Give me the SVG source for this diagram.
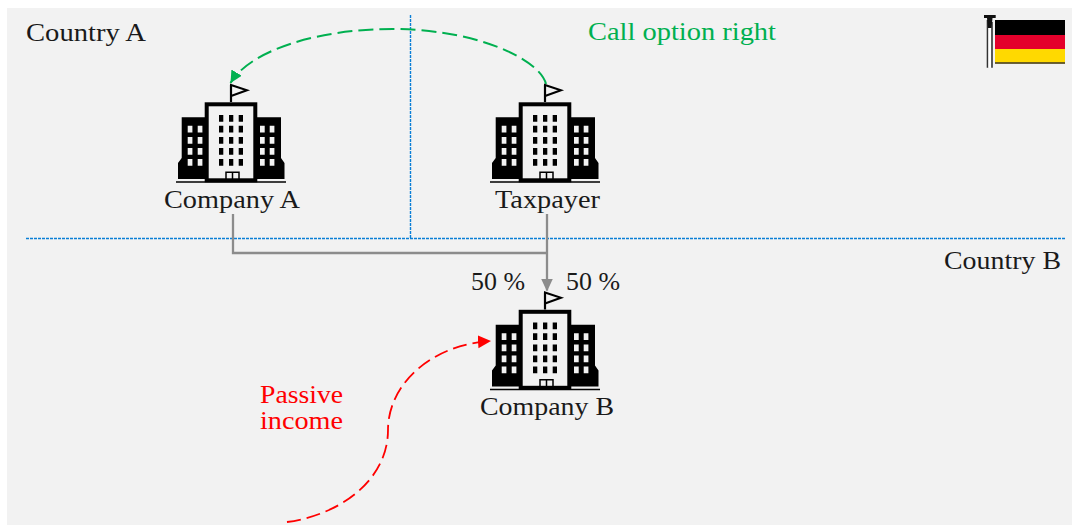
<svg xmlns="http://www.w3.org/2000/svg" width="1072" height="525" viewBox="0 0 1072 525">
<style>
text{font-family:"Liberation Serif","Times New Roman",serif;font-size:26px;fill:#1a1a1a}
.conn{fill:none}
.blue{stroke:#0a7fd6;stroke-width:1.4;stroke-dasharray:3 1}
.grey{stroke:#8c8c8c;stroke-width:2.3}
.green{stroke:#00b050;stroke-width:2;stroke-dasharray:15 6}
.red{stroke:#ff0000;stroke-width:1.8;stroke-dasharray:14 6}
.w{fill:#f2f2f2}
</style>
<defs>
<marker id="ag" markerUnits="userSpaceOnUse" markerWidth="16" markerHeight="16" refX="12" refY="6" orient="auto"><path d="M0 0L12 6L0 12Z" fill="#00b050"/></marker>
<marker id="ar" markerUnits="userSpaceOnUse" markerWidth="16" markerHeight="16" refX="12" refY="6.5" orient="auto"><path d="M0 0L13 6.5L0 13Z" fill="#ff0000"/></marker>
<marker id="ay" markerUnits="userSpaceOnUse" markerWidth="16" markerHeight="16" refX="12" refY="6" orient="auto"><path d="M0 0L13 6L0 12Z" fill="#8c8c8c"/></marker>
<g id="bld">
<path d="M181.7 117.3H206V179H178V163L181.7 158ZM281 117.3H256V179H284.5V163L281 158Z" fill="#000"/>
<rect x="206.7" y="104.3" width="48.6" height="76" fill="#f2f2f2" stroke="#000" stroke-width="4"/>
<path d="M176 182H286" stroke="#000" stroke-width="1.6"/>
<path d="M231 102V85" stroke="#000" stroke-width="2.2"/>
<path d="M231 85L247 90.3L231 96Z" fill="none" stroke="#000" stroke-width="2"/>
<g fill="#000">
<path d="M219 115h4.3v6.7h-4.3zM229 115h4.3v6.7h-4.3zM238.7 115h4.3v6.7h-4.3zM219 125.7h4.3v6.7h-4.3zM229 125.7h4.3v6.7h-4.3zM238.7 125.7h4.3v6.7h-4.3zM219 137h4.3v6.7h-4.3zM229 137h4.3v6.7h-4.3zM238.7 137h4.3v6.7h-4.3zM219 148h4.3v6.7h-4.3zM229 148h4.3v6.7h-4.3zM238.7 148h4.3v6.7h-4.3zM219 159h4.3v6.7h-4.3zM229 159h4.3v6.7h-4.3zM238.7 159h4.3v6.7h-4.3z"/>
</g>
<path class="w" d="M187.7 125.7h4.7v6.7h-4.7zM197.7 125.7h4.7v6.7h-4.7zM187.7 137h4.7v6.7h-4.7zM197.7 137h4.7v6.7h-4.7zM187.7 148h4.7v6.7h-4.7zM197.7 148h4.7v6.7h-4.7zM187.7 159h4.7v6.7h-4.7zM197.7 159h4.7v6.7h-4.7zM260 125.7h4.7v6.7H260zM269.7 125.7h4.7v6.7h-4.7zM260 137h4.7v6.7H260zM269.7 137h4.7v6.7h-4.7zM260 148h4.7v6.7H260zM269.7 148h4.7v6.7h-4.7zM260 159h4.7v6.7H260zM269.7 159h4.7v6.7h-4.7z"/>
<path d="M226 181.5V172.2H239V181.5M232.5 172.2V181.5" fill="none" stroke="#000" stroke-width="1.5"/>
</g>
</defs>
<rect x="7" y="8" width="1065" height="517" fill="#f2f2f2"/>
<g id="connectors">
<path class="conn blue" d="M26 238.5H1065"/>
<path class="conn blue" d="M410.5 15V238"/>
<path class="conn grey" d="M233 214V253H546"/>
<path class="conn grey" d="M547 214V290.5" marker-end="url(#ay)"/>
<path class="conn green" d="M546 84C541 62 485 31 398 29C320 28 250 50 230.5 83" marker-end="url(#ag)"/>
<path class="conn red" d="M287 522C340 515 388 480 388 430C388 385 430 345 490 341" marker-end="url(#ar)"/>
</g>
<g id="company-a"><use href="#bld"/><text x="164" y="208" textLength="136" lengthAdjust="spacingAndGlyphs">Company A</text></g>
<g id="taxpayer"><use href="#bld" x="314"/><text x="495" y="208" textLength="105" lengthAdjust="spacingAndGlyphs">Taxpayer</text></g>
<g id="company-b"><use href="#bld" x="314" y="207.5"/><text x="480" y="415" textLength="134" lengthAdjust="spacingAndGlyphs">Company B</text></g>
<g id="flag">
<path d="M987.5 67.7V20M992 67.7V22" fill="none" stroke="#333" stroke-width="1.6"/>
<path d="M988.5 67.7V24H991V67.7Z" fill="#fff"/>
<path d="M984 15H995.7V18H992.5L991.5 28H988L987 18H984Z" fill="#111"/>
<rect x="995" y="20" width="70" height="15.5" fill="#000"/>
<rect x="995" y="35" width="70" height="14" fill="#e4002b"/>
<rect x="995" y="49" width="70" height="13.5" fill="#ffd900"/>
<path d="M995 63H1065" stroke="#3c3000" stroke-width="1.4"/>
</g>
<g id="labels">
<text x="26" y="41" textLength="120" lengthAdjust="spacingAndGlyphs">Country A</text>
<text x="944" y="269" textLength="117" lengthAdjust="spacingAndGlyphs">Country B</text>
<text x="588" y="40" textLength="188" lengthAdjust="spacingAndGlyphs" style="fill:#00b050">Call option right</text>
<text x="471" y="290" textLength="54" lengthAdjust="spacingAndGlyphs">50 %</text>
<text x="566" y="290" textLength="54" lengthAdjust="spacingAndGlyphs">50 %</text>
<text style="fill:#ff0000"><tspan x="260" y="403" textLength="83" lengthAdjust="spacingAndGlyphs">Passive</tspan><tspan x="260" y="429" textLength="83" lengthAdjust="spacingAndGlyphs">income</tspan></text>
</g>
</svg>
